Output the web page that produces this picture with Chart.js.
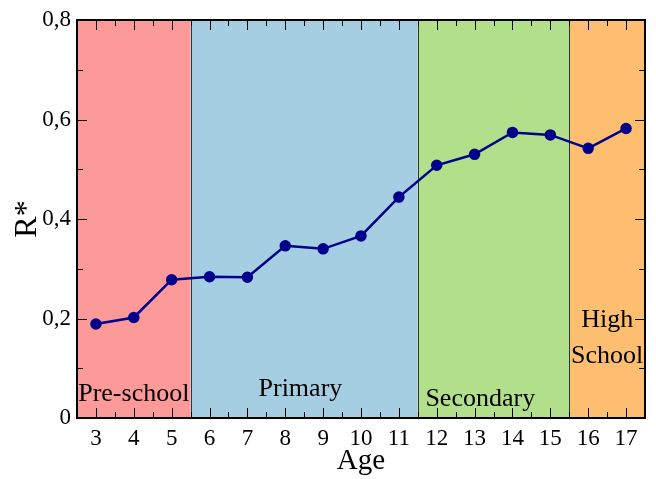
<!DOCTYPE html>
<html>
<head>
<meta charset="utf-8">
<script src="https://cdn.jsdelivr.net/npm/chart.js@4.4.0/dist/chart.umd.min.js"></script>
<style>
  html, body { margin: 0; padding: 0; background: #fff; }
  #wrap { width: 656px; height: 479px; }
</style>
</head>
<body>
<div id="wrap"><canvas id="lineChart" width="656" height="479"></canvas></div>
<script>
// ================================ data =============================
var ages = [3, 4, 5, 6, 7, 8, 9, 10, 11, 12, 13, 14, 15, 16, 17];
var rStar = [0.189, 0.202, 0.278, 0.284, 0.283, 0.346, 0.340, 0.366, 0.444, 0.508, 0.530, 0.574, 0.569, 0.542, 0.582];
var yTicks = [0, 0.2, 0.4, 0.6, 0.8];
var bandNames = ["Pre-school", "Primary", "Secondary", "High\nSchool"];
var bandFrom = [2.5, 5.5, 11.5, 15.5];
var bandTo = [5.5, 11.5, 15.5, 17.5];
var bandColors = ["#FB9A99", "#A6CEE3", "#B2DF8A", "#FDBF6F"];

var serif = "'Liberation Serif', 'DejaVu Serif', serif";

// ================================ bands + frame plugin =============================
var schoolBands = {
  id: "schoolBands",
  beforeDatasetsDraw: function (chart) {
    var c = chart.ctx, x = chart.scales.x, y = chart.scales.y, a = chart.chartArea;
    c.save();
    for (var i = 0; i < bandFrom.length; i++) {
      var x0 = x.getPixelForValue(bandFrom[i]);
      var x1 = x.getPixelForValue(bandTo[i]);
      c.fillStyle = bandColors[i];
      c.fillRect(x0, a.top, x1 - x0, a.bottom - a.top);
    }
    // separators
    c.strokeStyle = "#333";
    c.lineWidth = 1;
    for (var j = 1; j < bandFrom.length; j++) {
      var xs = Math.round(x.getPixelForValue(bandFrom[j])) + 0.5;
      c.beginPath();
      c.moveTo(xs, a.top);
      c.lineTo(xs, a.bottom);
      c.stroke();
    }
    // labels
    c.fillStyle = "#000";
    c.font = "26px " + serif;
    c.textAlign = "center";
    c.textBaseline = "middle";
    var lblX = [4, 8.4, 13.15, 16.5];
    var lblY = [0.047, 0.058, 0.037, 0.196];
    for (var k = 0; k < bandNames.length; k++) {
      var lines = bandNames[k].split("\n");
      for (var m = 0; m < lines.length; m++) {
        c.fillText(lines[m], x.getPixelForValue(lblX[k]), y.getPixelForValue(lblY[k]) + m * 36);
      }
    }
    c.restore();
  },
  afterDatasetsDraw: function (chart) {
    var c = chart.ctx, x = chart.scales.x, y = chart.scales.y, a = chart.chartArea;
    c.save();
    c.strokeStyle = "#000";
    c.lineWidth = 1;
    // inward ticks on all four sides
    for (var v = 2.5; v <= 17.5; v += 0.5) {
      var px = Math.round(x.getPixelForValue(v)) + 0.5;
      var len = Number.isInteger(v) ? 10 : 6;
      c.beginPath();
      c.moveTo(px, a.bottom); c.lineTo(px, a.bottom - len);
      c.moveTo(px, a.top); c.lineTo(px, a.top + len);
      c.stroke();
    }
    for (var t = 0; t <= 8; t++) {
      var py = Math.round(y.getPixelForValue(t / 10)) + 0.5;
      var l2 = t % 2 === 0 ? 10 : 6;
      c.beginPath();
      c.moveTo(a.left, py); c.lineTo(a.left + l2, py);
      c.moveTo(a.right, py); c.lineTo(a.right - l2, py);
      c.stroke();
    }
    c.lineWidth = 2;
    c.strokeRect(a.left, a.top, a.right - a.left, a.bottom - a.top);
    c.restore();
  }
};

// ================================ chart =============================
var ctx = document.getElementById("lineChart").getContext("2d");
var lineChart = new Chart(ctx, {
  type: "line",
  data: {
    datasets: [
      {
        label: "R*",
        data: ages.map(function (a, i) { return { x: a, y: rStar[i] }; }),
        borderColor: "#00008B",
        backgroundColor: "#00008B",
        borderWidth: 2.5,
        pointRadius: 4.5,
        pointHoverRadius: 4.5,
        tension: 0,
      },
    ],
  },
  options: {
    responsive: false,
    animation: false,
    layout: { padding: { top: 20, right: 11, left: 0, bottom: 0 } },
    plugins: { legend: { display: false }, tooltip: { enabled: false } },
    scales: {
      x: {
        type: "linear",
        min: 2.5,
        max: 17.5,
        afterBuildTicks: function (axis) {
          axis.ticks = ages.map(function (a) { return { value: a }; });
        },
        grid: { display: false, drawTicks: false },
        border: { display: false },
        ticks: {
          color: "#000",
          padding: 7,
          font: { family: serif, size: 23 },
          callback: function (v) { return v; },
        },
        title: {
          display: true,
          text: "Age",
          color: "#000",
          padding: { top: -5, bottom: 0 },
          font: { family: serif, size: 29 },
        },
        afterFit: function (axis) { axis.height = 61; },
      },
      y: {
        min: 0,
        max: 0.8,
        afterBuildTicks: function (axis) {
          axis.ticks = yTicks.map(function (v) { return { value: v }; });
        },
        grid: { display: false, drawTicks: false },
        border: { display: false },
        ticks: {
          color: "#000",
          padding: 6,
          font: { family: serif, size: 23 },
          callback: function (v) { return v === 0 ? "0" : v.toFixed(1).replace(".", ","); },
        },
        title: {
          display: true,
          text: "R*",
          color: "#000",
          padding: { top: 8, bottom: 0 },
          font: { family: serif, size: 32 },
        },
        afterFit: function (axis) { axis.width = 77; },
      },
    },
  },
  plugins: [schoolBands],
});
</script>
</body>
</html>
